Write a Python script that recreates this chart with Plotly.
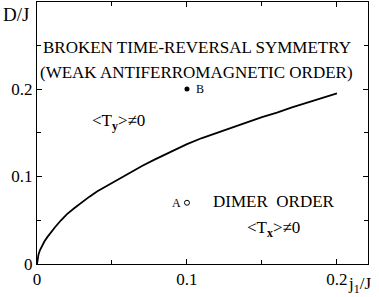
import plotly.graph_objects as go

# phase boundary D/J vs j1/J
j1 = [0, 0.0005, 0.001, 0.002, 0.003, 0.005, 0.007, 0.009, 0.012, 0.016, 0.02, 0.025, 0.03, 0.035, 0.04, 0.047,
      0.055, 0.062, 0.07, 0.078, 0.085, 0.092, 0.1, 0.11, 0.12, 0.135, 0.15, 0.16, 0.17, 0.185, 0.2]
D = [0, 0.008, 0.011, 0.016, 0.020, 0.026, 0.031, 0.036, 0.042, 0.050, 0.057, 0.064, 0.071, 0.077, 0.083, 0.090,
     0.098, 0.105, 0.112, 0.119, 0.125, 0.131, 0.137, 0.144, 0.150, 0.159, 0.168, 0.173, 0.179, 0.187, 0.195]

# special points
pt_labels = ["A", "B"]
pt_x = [0.1, 0.1]
pt_y = [0.07, 0.2]

x_ticks = [0, 0.1, 0.2]
x_ticklabels = ["0", "0.1", "0.2"]
y_ticks = [0, 0.1, 0.2]
y_ticklabels = ["0", "0.1", "0.2"]

FONT = "Liberation Serif"

fig = go.Figure()
fig.add_trace(go.Scatter(x=j1, y=D, mode="lines", line=dict(color="black", width=1.8),
                         hoverinfo="skip", showlegend=False))
fig.add_trace(go.Scatter(x=[pt_x[0]], y=[pt_y[0]], mode="markers",
                         marker=dict(symbol="circle-open", size=5, color="black", line=dict(width=1)),
                         showlegend=False))
fig.add_trace(go.Scatter(x=[pt_x[1]], y=[pt_y[1]], mode="markers",
                         marker=dict(symbol="circle", size=5, color="black"),
                         showlegend=False))

fig.add_annotation(x=pt_x[0], y=pt_y[0], text=pt_labels[0], showarrow=False, xanchor="right", xshift=-4,
                   font=dict(family=FONT, size=12, color="black"))
fig.add_annotation(x=pt_x[1], y=pt_y[1], text=pt_labels[1], showarrow=False, xanchor="left", xshift=7,
                   font=dict(family=FONT, size=12, color="black"))

txt = dict(family=FONT, size=17, color="black")
fig.add_annotation(x=0.1065, y=0.248, text="BROKEN TIME-REVERSAL SYMMETRY", showarrow=False, font=txt)
fig.add_annotation(x=0.1065, y=0.219, text="(WEAK ANTIFERROMAGNETIC ORDER)", showarrow=False, font=txt)
fig.add_annotation(x=0.0545, y=0.162, text="&lt;T<sub><b>y</b></sub>&gt;≠0", showarrow=False, font=txt)
fig.add_annotation(x=0.158, y=0.071, text="DIMER  ORDER", showarrow=False, font=txt)
fig.add_annotation(x=0.158, y=0.040, text="&lt;T<sub><b>x</b></sub>&gt;≠0", showarrow=False, font=txt)

fig.add_annotation(xref="paper", yref="paper", x=-0.11, y=1.0, text="D/J", showarrow=False,
                   xanchor="left", yanchor="top", font=dict(family=FONT, size=19, color="black"))
fig.add_annotation(xref="paper", yref="paper", x=0.935, y=-0.08, text="j<sub>1</sub>/J", showarrow=False,
                   xanchor="left", yanchor="middle", font=dict(family=FONT, size=17, color="black"))

axis_common = dict(showgrid=False, zeroline=False, showline=True, linecolor="black", linewidth=1,
                   mirror="ticks", ticks="inside", ticklen=5, tickcolor="black", tickwidth=1,
                   automargin=False,
                   tickfont=dict(family=FONT, size=17, color="black"))
fig.update_xaxes(range=[0, 0.2207], tickvals=x_ticks, ticktext=x_ticklabels,
                 minor=dict(tickvals=[0.05, 0.15], ticks="inside", ticklen=4, tickcolor="black"),
                 **axis_common)
fig.update_yaxes(range=[0, 0.2995], tickvals=y_ticks, ticktext=y_ticklabels,
                 minor=dict(tickvals=[0.05, 0.15, 0.25], ticks="inside", ticklen=4, tickcolor="black"),
                 **axis_common)

fig.update_layout(width=379, height=297, margin=dict(l=37, r=11, t=2, b=33),
                  plot_bgcolor="white", paper_bgcolor="white", showlegend=False)

fig.write_html("out.html", config={"displayModeBar": False},
               post_script="document.body.style.margin='0px';document.body.style.overflow='hidden';")
